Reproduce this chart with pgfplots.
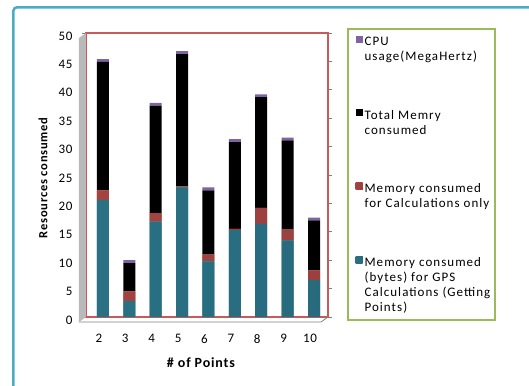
\documentclass[border=0pt]{standalone}
\usepackage{fontspec}
\setmainfont{Carlito}[LetterSpace=6]
\newfontfamily\lgfont{Carlito}[LetterSpace=8]
\usepackage{pgfplots}
\pgfplotsset{compat=1.18}
\definecolor{tealbar}{HTML}{31859C}
\definecolor{tealhi}{HTML}{6FBCD0}
\definecolor{redbar}{HTML}{C0504D}
\definecolor{redhi}{HTML}{E08A87}
\definecolor{purplebar}{HTML}{8064A2}
\definecolor{framered}{HTML}{C85A58}
\definecolor{lggreen}{HTML}{9BBB59}
\definecolor{outerteal}{HTML}{4BACC6}
\pgfplotstableread{
x gps calc total cpu
2  20.6 1.7 22.6 0.5
3  2.8  1.7 5.0  0.5
4  16.8 1.5 18.9 0.5
5  22.8 0.2 23.3 0.5
6  9.8  1.2 11.3 0.5
7  15.3 0.2 15.3 0.5
8  16.4 2.8 19.5 0.5
9  13.5 1.9 15.7 0.5
10 6.5  1.7 8.8  0.5
}\datatable
\begin{document}
\begin{tikzpicture}
\path[use as bounding box] (-86pt,-68pt) rectangle (443pt,317pt);
\begin{scope}
\clip (-86pt,-68pt) rectangle (443pt,317pt);
\draw[outerteal, line width=2.5pt, rounded corners=3pt] (-72.5pt,-90pt) rectangle (470pt,309.5pt);
\end{scope}
\begin{axis}[
  at={(0pt,0pt)}, anchor=south west,
  scale only axis, width=242pt, height=284pt,
  xmin=1.36, xmax=10.53, ymin=0, ymax=50,
  ybar stacked, bar width=12pt,
  axis line style={framered, line width=1.8pt},
  xtick=data,
  xtick style={draw=none},
  minor xtick={1.5,2.5,...,10.5},
  minor tick length=5pt,
  minor tick style={gray, line width=0.6pt},
  ytick={0,5,...,50},
  tick align=outside,
  major tick length=4pt,
  ytick style={gray, line width=0.6pt},
  font=\fontsize{13}{15}\selectfont,
  /pgf/number format/assume math mode=true,
  xticklabel style={yshift=-10pt, xshift=-4pt},
  yticklabel style={yshift=-3pt, xshift=-6pt},
  xlabel={\bfseries \# of Points},
  ylabel={\bfseries Resources consumed},
  xlabel style={at={(axis description cs:0.475,-0.16)}, anchor=center, font=\fontsize{14}{16}\selectfont},
  ylabel style={at={(axis description cs:-0.178,0.49)}, anchor=center, font=\fontsize{12.5}{14}\selectfont},
  legend style={at={(axis description cs:1.0785,1.0176)}, anchor=north west,
    draw=lggreen, line width=2.2pt, inner xsep=3pt, inner ysep=5pt,
    font=\fontsize{13}{15}\selectfont\lgfont,
    row sep=43pt,
    cells={anchor=north west, align=left}},
  reverse legend,
  legend image code/.code={\path (0pt,0pt); \fill[#1, line width=0pt] (4.5pt,-2pt) rectangle (11.5pt,-9pt);},
  clip=false,
]
\fill[gray!55] (rel axis cs:0,0) -- (rel axis cs:0,1) -- ([shift={(-7pt,-5pt)}]rel axis cs:0,1) -- ([shift={(-7pt,-5pt)}]rel axis cs:0,0) -- cycle;
\draw[gray, line width=0.8pt] ([shift={(-7pt,-5pt)}]rel axis cs:0,0) -- ([shift={(-7pt,-5pt)}]rel axis cs:1,0) -- (rel axis cs:1,0);
\addplot[draw=none, fill=tealbar, left color=tealbar!85!black, middle color=tealhi, right color=tealbar!80!black] table[x=x,y=gps] {\datatable};
\addplot[draw=none, fill=redbar, left color=redbar!85!black, middle color=redhi, right color=redbar!80!black] table[x=x,y=calc] {\datatable};
\addplot[draw=none, fill=black] table[x=x,y=total] {\datatable};
\addplot[draw=none, fill=purplebar] table[x=x,y=cpu] {\datatable};
\legend{{Memory consumed\\(bytes) for GPS\\Calculations (Getting\\Points)\rule[-5pt]{0pt}{5pt}},{Memory consumed\\for Calculations only},{Total Memry\\consumed},{CPU\\usage(MegaHertz)}}
\end{axis}
\end{tikzpicture}
\end{document}
